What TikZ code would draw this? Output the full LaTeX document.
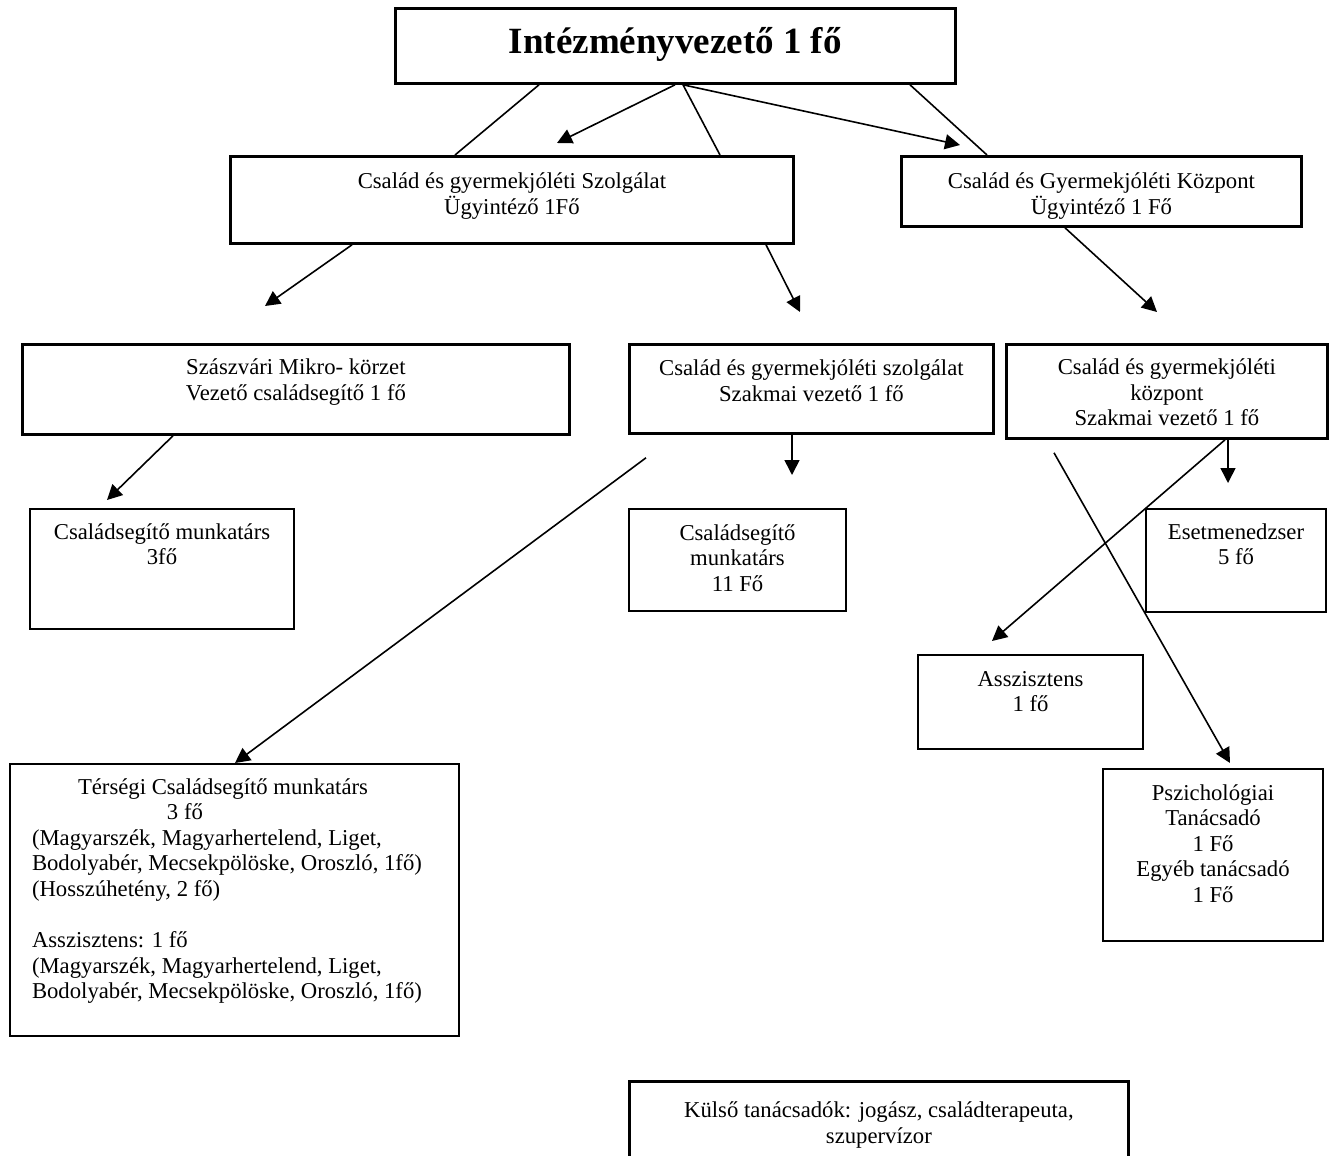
\documentclass[tikz,border=0pt]{standalone}
\usepackage{fontspec}
\setmainfont{Liberation Serif}
\usetikzlibrary{arrows.meta}
\newcommand{\boxtxt}[4]{\parbox[t][#2][t]{#1}{\centering\rule{0pt}{#3}#4}}

\begin{document}
\begin{tikzpicture}[x=1pt,y=-1pt,
  box/.style={draw,line width=2.8pt,inner sep=0pt,anchor=north west},
  small/.style={box,line width=2pt},
  link/.style={line width=1.6pt},
  arr/.style={link,-{Triangle[length=15pt,width=15pt]}},
  every node/.style={font=\fontsize{22.7pt}{25.6pt}\selectfont}]
 \useasboundingbox (0,0) rectangle (1333,1156);

 \node[box] (head) at (394,7) {\boxtxt{560pt}{75pt}{45pt}{\fontsize{37pt}{44pt}\selectfont\bfseries Intézményvezető 1 fő}};
 \node[box] (szolg) at (229,155) {\boxtxt{563pt}{87pt}{32pt}{Család és gyermekjóléti Szolgálat\\Ügyintéző 1Fő}};
 \node[box] (kozp) at (900,155) {\boxtxt{400pt}{70pt}{32pt}{Család és Gyermekjóléti Központ\\Ügyintéző 1 Fő}};
 \node[box] (szasz) at (21,343) {\boxtxt{547pt}{90pt}{30pt}{Szászvári Mikro- körzet\\Vezető családsegítő 1 fő}};
 \node[box] (szolgsz) at (628,343) {\boxtxt{364pt}{89pt}{31pt}{Család és gyermekjóléti szolgálat\\Szakmai vezető 1 fő}};
 \node[box] (kozpsz) at (1005,343) {\boxtxt{321pt}{94pt}{30pt}{Család és gyermekjóléti\\központ\\Szakmai vezető 1 fő}};
 \node[small] (csal1) at (29,508) {\boxtxt{264pt}{120pt}{30pt}{Családsegítő munkatárs\\3fő}};
 \node[small] (csal2) at (628,508) {\boxtxt{217pt}{102pt}{31pt}{Családsegítő\\munkatárs\\11 Fő}};
 \node[small] (esetm) at (1145,508) {\boxtxt{180pt}{103pt}{30pt}{Esetmenedzser\\5 fő}};
 \node[small] (asszi) at (917,654) {\boxtxt{225pt}{94pt}{31pt}{Asszisztens\\1 fő}};
 \node[small] (pszich) at (1102,768) {\boxtxt{220pt}{172pt}{31pt}{Pszichológiai\\Tanácsadó\\1 Fő\\Egyéb tanácsadó\\1 Fő}};
 \node[small] (tersegi) at (9,763) {\parbox[t][272pt][t]{449pt}{\rule{0pt}{30pt}\hspace*{68pt}Térségi Családsegítő munkatárs\\
   \hspace*{157pt}3 fő\\
   \hspace*{22pt}(Magyarszék, Magyarhertelend, Liget,\\
   \hspace*{22pt}Bodolyabér, Mecsekpölöske, Oroszló, 1fő)\\
   \hspace*{22pt}(Hosszúhetény, 2 fő)\\[25.6pt]
   \hspace*{22pt}Asszisztens: 1 fő\\
   \hspace*{22pt}(Magyarszék, Magyarhertelend, Liget,\\
   \hspace*{22pt}Bodolyabér, Mecsekpölöske, Oroszló, 1fő)}};
 \node[box] (kulso) at (628,1080) {\boxtxt{499pt}{100pt}{36pt}{Külső tanácsadók: jogász, családterapeuta,\\szupervízor}};

 \draw[link] ([shift={(145,0)}]head.south west) -- ([shift={(226,0)}]szolg.north west);
 \draw[arr] ([shift={(281,0)}]head.south west) -- ([shift={(328,-12)}]szolg.north west);
 \draw[link] ([shift={(289,0)}]head.south west) -- ([shift={(491,0)}]szolg.north west);
 \draw[arr] ([shift={(289,0)}]head.south west) -- ([shift={(60,-10)}]kozp.north west);
 \draw[link] ([shift={(516,0)}]head.south west) -- ([shift={(87,0)}]kozp.north west);
 \draw[arr] ([shift={(123,0)}]szolg.south west) -- ([shift={(244,-37)}]szasz.north west);
 \draw[arr] ([shift={(537,0)}]szolg.south west) -- ([shift={(172,-31)}]szolgsz.north west);
 \draw[arr] ([shift={(165,0)}]kozp.south west) -- ([shift={(152,-31)}]kozpsz.north west);
 \draw[arr] ([shift={(152,0)}]szasz.south west) -- ([shift={(78,-8)}]csal1.north west);
 \draw[arr] ([shift={(164,0)}]szolgsz.south west) -- ([shift={(164,-33)}]csal2.north west);
 \draw[arr] ([shift={(18,23)}]szolgsz.south west) -- ([shift={(226,0)}]tersegi.north west);
 \draw[arr] ([shift={(223,0)}]kozpsz.south west) -- ([shift={(83,-25)}]esetm.north west);
 \draw[arr] ([shift={(220,0)}]kozpsz.south west) -- ([shift={(75,-13)}]asszi.north west);
 \draw[arr] ([shift={(49,13)}]kozpsz.south west) -- ([shift={(128,-5)}]pszich.north west);
\end{tikzpicture}
\end{document}
